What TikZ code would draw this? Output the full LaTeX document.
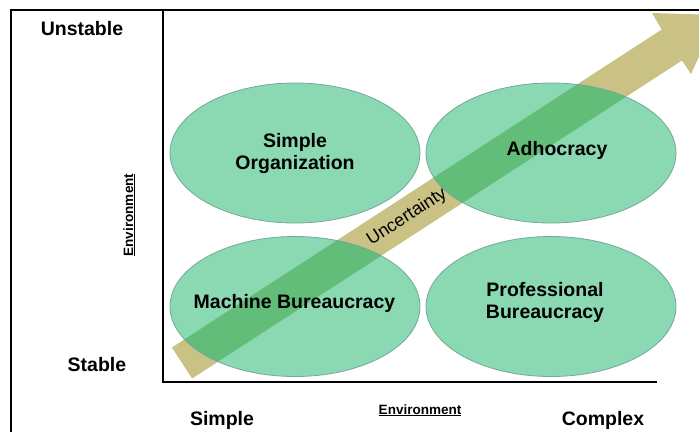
\documentclass[tikz,border=0pt]{standalone}
\usepackage{fontspec}
\setmainfont{Liberation Sans}
\usetikzlibrary{shapes.geometric}

\definecolor{mint}{HTML}{8AD9B3}
\definecolor{mintdark}{HTML}{62BD79}
\definecolor{khaki}{HTML}{CAC285}
\definecolor{rimgray}{HTML}{74A89C}

\begin{document}
\begin{tikzpicture}[x=1pt, y=-1pt]
    \tikzstyle{org} = [ellipse, minimum width=250pt, minimum height=140pt, inner sep=0pt, fill=mint, draw=rimgray, line width=0.8pt]
    \tikzstyle{orglabel} = [align=center, font=\fontsize{19.5}{22}\selectfont\bfseries]
    \tikzstyle{corner} = [anchor=base, font=\fontsize{19.5}{22}\selectfont\bfseries]
    \tikzstyle{axisname} = [anchor=base, font=\fontsize{13.5}{16}\selectfont\bfseries]
    \def\arrowpath{(171.9,347.5) -- (661.7,29.5) -- (652,13) -- (718,15) -- (691,74) -- (681.9,60.5) -- (192.1,378.5) -- cycle}

    \useasboundingbox (0,0) rectangle (699,432);
    \clip (0,0) rectangle (699,432);

    % Frame and axes
    \coordinate (framebl) at (11,432);
    \coordinate (frametl) at (11,10);
    \coordinate (frametr) at (699,10);
    \coordinate (origin) at (163,382);
    \coordinate (ytop) at (163,10);
    \coordinate (xend) at (657,382);
    \draw [line width=2pt] (framebl) -- (frametl) -- (frametr);
    \draw [line width=2.5pt] (ytop) -- (origin) -- (xend);

    % Uncertainty arrow
    \fill [khaki] \arrowpath;

    % Organization types
    \node [org] (simpleorg) at (295,153) {};
    \node [org] (adhocracy) at (551,153) {};
    \node [org] (machine) at (295,306.5) {};
    \node [org] (professional) at (551,306.5) {};

    % Overlap of arrow and ellipses
    \begin{scope}
        \clip \arrowpath;
        \foreach \e in {simpleorg, adhocracy, machine, professional}
            \filldraw [fill=mintdark, draw=rimgray, line width=0.8pt] (\e.center) ellipse [x radius=125, y radius=70];
    \end{scope}

    % Labels
    \node [orglabel] (simpleorglabel) at (295,153) {Simple\\Organization};
    \node [orglabel] (adhocracylabel) at (557,150) {Adhocracy};
    \node [orglabel] (machinelabel) at (294.5,303) {Machine Bureaucracy};
    \node [orglabel] (professionallabel) at (545,302) {Professional\\Bureaucracy};
    \node [rotate=33, font=\fontsize{18}{20}\selectfont] (uncertainty) at (407,217) {Uncertainty};

    % Axis texts
    \node [corner] (unstable) at (82,35) {Unstable};
    \node [corner] (stable) at (97,371) {Stable};
    \node [corner] (simple) at (222,425) {Simple};
    \node [corner] (complex) at (603,425) {Complex};
    \node [axisname] (xname) at (420,414) {\underline{Environment}};
    \node [axisname, rotate=90] (yname) at (133,215) {\underline{Environment}};
\end{tikzpicture}
\end{document}
